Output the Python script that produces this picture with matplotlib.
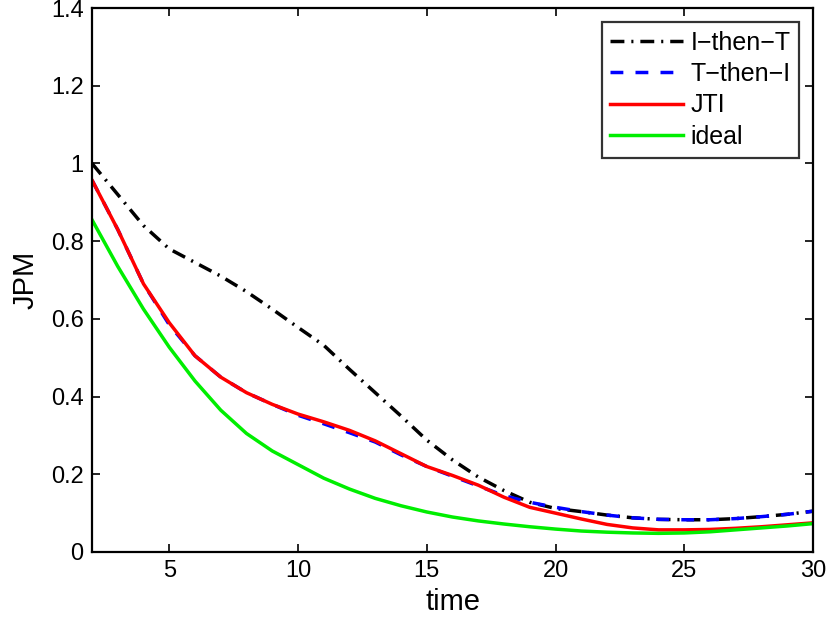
import matplotlib
matplotlib.use("Agg")
import matplotlib.pyplot as plt

plt.rcParams['font.family'] = ['Liberation Sans', 'DejaVu Sans']

time = list(range(2, 31))
i_then_t = [1.0, 0.92, 0.84, 0.78, 0.745, 0.71, 0.67, 0.625, 0.578, 0.532,
            0.47, 0.41, 0.35, 0.288, 0.237, 0.193, 0.158, 0.128, 0.112,
            0.104, 0.095, 0.088, 0.084, 0.083, 0.083, 0.086, 0.091, 0.097, 0.105]
t_then_i = [0.957, 0.83, 0.69, 0.585, 0.505, 0.45, 0.41, 0.38, 0.352, 0.33,
            0.307, 0.283, 0.25, 0.22, 0.195, 0.17, 0.145, 0.128, 0.115,
            0.104, 0.095, 0.088, 0.084, 0.083, 0.083, 0.086, 0.091, 0.097, 0.105]
jti = [0.957, 0.83, 0.69, 0.59, 0.505, 0.45, 0.41, 0.38, 0.355, 0.335,
       0.313, 0.286, 0.253, 0.22, 0.197, 0.172, 0.141, 0.115, 0.10,
       0.085, 0.071, 0.062, 0.057, 0.057, 0.058, 0.061, 0.065, 0.07, 0.075]
ideal = [0.855, 0.735, 0.625, 0.527, 0.44, 0.365, 0.305, 0.26, 0.225, 0.19,
         0.162, 0.138, 0.119, 0.103, 0.09, 0.08, 0.072, 0.065, 0.059,
         0.054, 0.051, 0.049, 0.048, 0.049, 0.052, 0.057, 0.062, 0.067, 0.073]

labels = ['I\u2212then\u2212T', 'T\u2212then\u2212I', 'JTI', 'ideal']
xticks = [5, 10, 15, 20, 25, 30]
yticks = [0, 0.2, 0.4, 0.6, 0.8, 1, 1.2, 1.4]
yticklabels = ['0', '0.2', '0.4', '0.6', '0.8', '1', '1.2', '1.4']

fig = plt.figure(figsize=(8.27, 6.25), dpi=100)
ax = fig.add_axes([92/827, 1-552/625, (813-92)/827, (552-8)/625])

lw = 2.5
ax.plot(time, i_then_t, color='black', linestyle=(0, (4, 2, 0.6, 2)), lw=lw, label=labels[0])
ax.plot(time, t_then_i, color='#0000ff', linestyle=(0, (3.7, 3.5)), lw=lw, label=labels[1])
ax.plot(time, jti, color='#ff0000', linestyle='-', lw=lw, label=labels[2])
ax.plot(time, ideal, color='#00ee00', linestyle='-', lw=lw, label=labels[3])

ax.set_xlim(2, 30)
ax.set_ylim(0, 1.4)
ax.set_xticks(xticks)
ax.set_yticks(yticks)
ax.set_yticklabels(yticklabels)
ax.tick_params(direction='in', top=True, right=True, length=6, width=1.2, labelsize=17, pad=6)
for s in ax.spines.values():
    s.set_linewidth(1.6)
ax.set_xlabel('time', fontsize=21, labelpad=4)
ax.set_ylabel('JPM', fontsize=21, labelpad=8)

leg = ax.legend(loc='upper right', fontsize=18, frameon=True, fancybox=False,
                edgecolor='black', handlelength=2.9, borderaxespad=0.55,
                labelspacing=0.3, handletextpad=0.3, borderpad=0.35)
leg.get_frame().set_linewidth(1.6)

fig.savefig('out.png', dpi=100)
